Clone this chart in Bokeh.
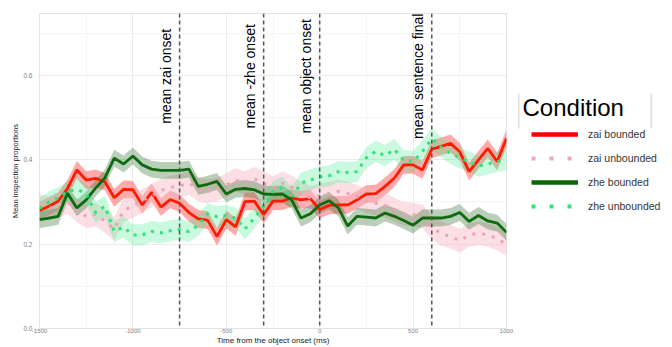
import numpy as np
from bokeh.plotting import figure
from bokeh.layouts import row
from bokeh.models import (Range1d, FixedTicker, PrintfTickFormatter, Span, Label,
                          Legend, LegendItem, ColumnDataSource, BoxAnnotation)
from bokeh.core.properties import value
from bokeh.embed import file_html
from bokeh.resources import INLINE

# ---------------- data ----------------
time_ms = [-1500, -1450, -1400, -1350, -1300, -1250, -1200, -1150, -1100, -1050, -1000,
           -950, -900, -850, -800, -750, -700, -650, -600, -550, -500,
           -450, -400, -350, -300, -250, -200, -150, -100, -50, 0,
           50, 100, 150, 200, 250, 300, 350, 400, 450, 500,
           550, 600, 650, 700, 750, 800, 850, 900, 950, 1000]

zai_bounded = [0.280, 0.290, 0.302, 0.332, 0.376, 0.352, 0.356, 0.348, 0.310, 0.330, 0.329,
               0.293, 0.323, 0.288, 0.306, 0.297, 0.275, 0.260, 0.257, 0.218, 0.258,
               0.241, 0.301, 0.302, 0.270, 0.302, 0.302, 0.310, 0.305, 0.308, 0.282,
               0.292, 0.293, 0.293, 0.305, 0.319, 0.320, 0.337, 0.357, 0.388, 0.388,
               0.376, 0.425, 0.432, 0.439, 0.419, 0.372, 0.400, 0.427, 0.396, 0.451]

zai_unbounded = [0.290, 0.285, 0.290, 0.300, 0.280, 0.266, 0.270, 0.255, 0.236, 0.280, 0.290,
                 0.303, 0.315, 0.327, 0.335, 0.338, 0.345, 0.330, 0.325, 0.330, 0.340,
                 0.352, 0.345, 0.355, 0.345, 0.333, 0.345, 0.335, 0.320, 0.310, 0.315,
                 0.320, 0.325, 0.320, 0.313, 0.302, 0.297, 0.292, 0.282, 0.272, 0.270,
                 0.266, 0.240, 0.225, 0.218, 0.208, 0.222, 0.226, 0.222, 0.213, 0.200]

zhe_bounded = [0.258, 0.262, 0.266, 0.321, 0.286, 0.305, 0.333, 0.357, 0.404, 0.390, 0.409,
               0.388, 0.378, 0.375, 0.375, 0.375, 0.378, 0.337, 0.342, 0.349, 0.319,
               0.330, 0.332, 0.329, 0.319, 0.318, 0.319, 0.305, 0.262, 0.272, 0.293,
               0.303, 0.286, 0.243, 0.266, 0.264, 0.262, 0.274, 0.266, 0.256, 0.245,
               0.262, 0.262, 0.262, 0.266, 0.275, 0.254, 0.268, 0.255, 0.250, 0.228]

zhe_unbounded = [0.285, 0.300, 0.310, 0.325, 0.330, 0.320, 0.275, 0.290, 0.230, 0.240, 0.222,
                 0.222, 0.230, 0.227, 0.232, 0.235, 0.230, 0.245, 0.272, 0.265, 0.268,
                 0.262, 0.236, 0.262, 0.290, 0.325, 0.335, 0.310, 0.345, 0.352, 0.360,
                 0.362, 0.372, 0.370, 0.372, 0.405, 0.420, 0.410, 0.425, 0.398, 0.396,
                 0.420, 0.450, 0.430, 0.415, 0.405, 0.395, 0.385, 0.390, 0.396, 0.400]

# approximate confidence half-widths of each ribbon
ci_zai_bounded = 0.021
ci_zai_unbounded = 0.028
ci_zhe_bounded = 0.020
ci_zhe_unbounded = 0.025

conditions = ["zai bounded", "zai unbounded", "zhe bounded", "zhe unbounded"]
legend_title = "Condition"

vline_x = [-750, -300, 0, 600]
vline_labels = ["mean zai onset", "mean -zhe onset", "mean object onset", "mean sentence final"]

x_ticks = [-1500, -1000, -500, 0, 500, 1000]
x_minor = [-1250, -750, -250, 250, 750]
y_ticks = [0.0, 0.2, 0.4, 0.6]
y_minor = [0.1, 0.3, 0.5, 0.7]

FONT = "Liberation Sans"
H = 347

# ---------------- main figure ----------------
p = figure(width=514, height=H, output_backend="svg", toolbar_location=None,
           x_range=Range1d(-1500, 1000), y_range=Range1d(0, 0.747),
           min_border_left=39, min_border_right=8, min_border_top=13,
           min_border_bottom=18)
p.outline_line_color = "#E3E3E3"

styles = {
    "zai bounded":   dict(line="#FF1A00", fill="#FF2A2A", alpha=0.40, dash="solid", w=2.8, ci=ci_zai_bounded, y=zai_bounded),
    "zai unbounded": dict(line="#EFA0B4", fill="#F7B8C6", alpha=0.45, dash="3 7", w=3.0, ci=ci_zai_unbounded, y=zai_unbounded),
    "zhe bounded":   dict(line="#0E6A0E", fill="#2F6E2A", alpha=0.33, dash="solid", w=2.8, ci=ci_zhe_bounded, y=zhe_bounded),
    "zhe unbounded": dict(line="#2FE27A", fill="#3CE88A", alpha=0.28, dash="3 6", w=3.0, ci=ci_zhe_unbounded, y=zhe_unbounded),
}

t = np.array(time_ms, dtype=float)
for name in conditions:
    s = styles[name]
    y = np.array(s["y"])
    p.varea(x=t, y1=y - s["ci"], y2=y + s["ci"], fill_color=s["fill"], fill_alpha=s["alpha"])

for name in conditions:
    s = styles[name]
    p.line(x=t, y=np.array(s["y"]), line_color=s["line"], line_width=s["w"], line_dash=s["dash"])

for vx in vline_x:
    p.add_layout(Span(location=vx, dimension="height", line_color="#555555",
                      line_width=1.5, line_dash="4 3"))

label_y = 0.598
src = ColumnDataSource(dict(x=vline_x, y=[label_y] * len(vline_x), text=vline_labels))
p.text(x="x", y="y", text="text", source=src, angle=np.pi / 2, text_align="center",
       text_baseline="alphabetic", x_offset=-14, text_font=value(FONT),
       text_font_size="14px", text_color="black")

p.xaxis.ticker = FixedTicker(ticks=x_ticks, minor_ticks=x_minor)
p.yaxis.ticker = FixedTicker(ticks=y_ticks, minor_ticks=y_minor)
p.xaxis.formatter = PrintfTickFormatter(format="%d")
p.yaxis.formatter = PrintfTickFormatter(format="%.1f")
for ax in (p.xaxis, p.yaxis):
    ax.axis_line_color = None
    ax.major_tick_line_color = None
    ax.minor_tick_line_color = None
    ax.major_tick_out = 0
    ax.major_tick_in = 0
    ax.minor_tick_out = 0
    ax.minor_tick_in = 0
    ax.major_label_text_font = FONT
    ax.major_label_text_color = "#808080"
    ax.axis_label_text_font = FONT
    ax.axis_label_text_font_style = "normal"
    ax.axis_label_text_color = "#222222"
p.xaxis.major_label_text_font_size = "6px"
p.yaxis.major_label_text_font_size = "6.5px"
p.xaxis.axis_label = "Time from the object onset (ms)"
p.xaxis.axis_label_text_font_size = "8px"
p.xaxis.major_label_standoff = 0
p.xaxis.axis_label_standoff = 0
p.yaxis.axis_label = "Mean inspection proportions"
p.yaxis.axis_label_text_font_size = "7.5px"
p.yaxis.major_label_standoff = 7
p.yaxis.axis_label_standoff = 0

p.xgrid.grid_line_color = "#EBEBEB"
p.ygrid.grid_line_color = "#EBEBEB"
p.xgrid.minor_grid_line_color = "#F4F4F4"
p.ygrid.minor_grid_line_color = "#F4F4F4"

# ---------------- legend panel ----------------
lg = figure(width=150, height=H, output_backend="svg", toolbar_location=None,
            x_range=Range1d(0, 1), y_range=Range1d(0, 1),
            min_border=0, x_axis_location=None, y_axis_location=None)
lg.outline_line_color = None
lg.grid.visible = False

leg_styles = {
    "zai bounded":   dict(c="#FF0000", dash="solid", w=4.5),
    "zai unbounded": dict(c="#F0A6B6", dash="4 14", w=4.0),
    "zhe bounded":   dict(c="#0A640A", dash="solid", w=4.5),
    "zhe unbounded": dict(c="#33E27C", dash="4 14", w=4.0),
}
items = []
for name in conditions:
    ls = leg_styles[name]
    # legend-key renderers, kept outside the visible range of this panel
    r = lg.line(x=[-5, -4], y=[-5, -4], line_color=ls["c"], line_width=ls["w"],
                line_dash=ls["dash"])
    items.append(LegendItem(label=name, renderers=[r]))

legend = Legend(items=items, location=(17, 111.7), orientation="vertical",
                glyph_width=47, glyph_height=20, label_height=20, label_standoff=10,
                spacing=4, padding=2, margin=0, border_line_color=None,
                background_fill_alpha=0, label_text_font=FONT,
                label_text_font_size="10.5px", label_text_color="#333333")
lg.add_layout(legend)

lg.add_layout(Label(x=8, y=221, x_units="screen", y_units="screen", text=legend_title,
                    text_font=FONT, text_font_size="24px", text_color="black",
                    text_baseline="alphabetic"))
for bx in (4.3, 136.7):
    lg.add_layout(BoxAnnotation(left=bx, right=bx, bottom=200, top=235,
                                left_units="screen", right_units="screen",
                                bottom_units="screen", top_units="screen",
                                line_color="#AAAAAA", line_width=1, fill_alpha=0))

layout = row(p, lg, spacing=0)
open("out.html", "w").write(file_html(layout, INLINE))
